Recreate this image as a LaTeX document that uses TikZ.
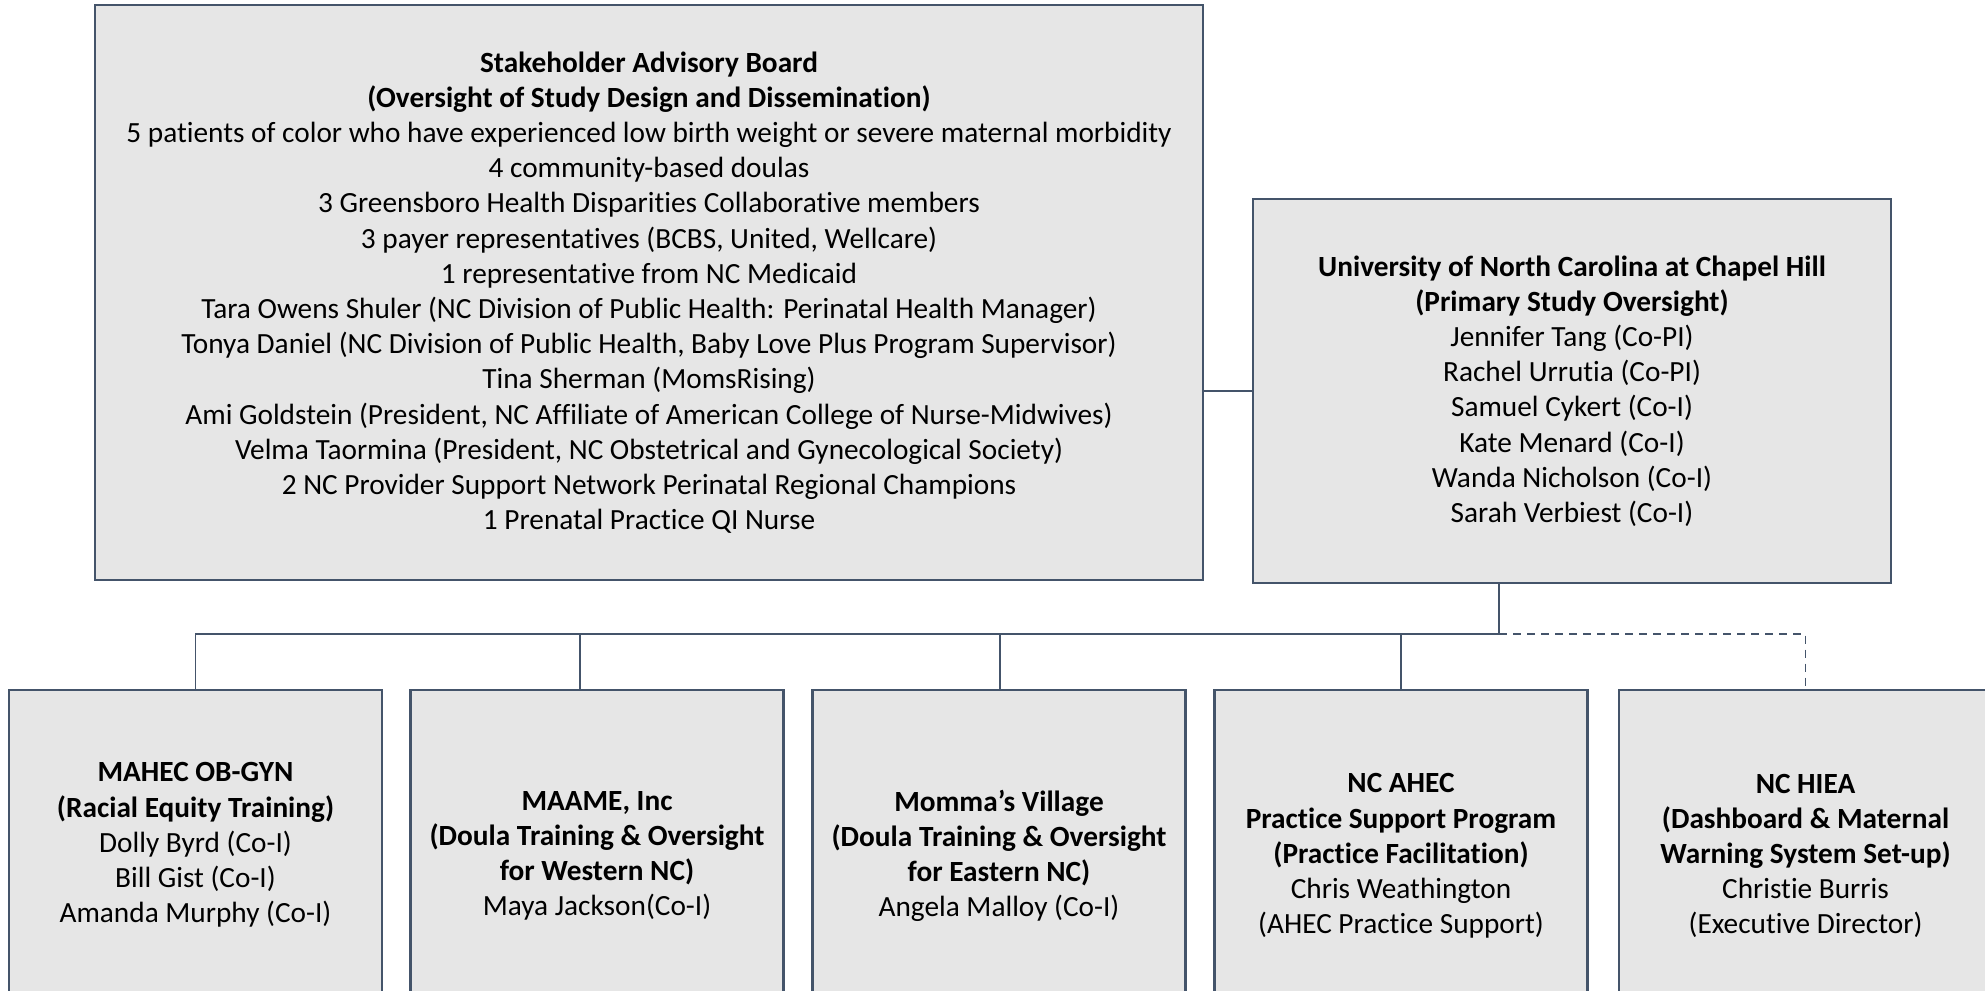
\documentclass[tikz,border=0pt]{standalone}
\usepackage{fontspec}
\setmainfont{Carlito}[Ligatures=NoCommon]
\definecolor{slate}{HTML}{44546A}
\definecolor{boxgray}{HTML}{E6E6E6}
\begin{document}
\begin{tikzpicture}[x=1pt,y=-1pt,
    orgbox/.style ={rectangle, draw=slate, fill=boxgray, line width=2.6pt, inner sep=0pt, align=center,
                    font=\fontsize{29.3}{35.2}\selectfont},
    unitbox/.style ={orgbox, minimum width=373pt, minimum height=332pt},
    link/.style ={draw=slate, line width=1.8pt}]
   \useasboundingbox (0,0) rectangle (1985,990);
   \clip (0,0) rectangle (1985,990);
   \node[orgbox, minimum width=1108pt, minimum height=575pt] (sab) at (649,292.5)
     {\textbf{Stakeholder Advisory Board}\\
      \textbf{(Oversight of Study Design and Dissemination)}\\
      5 patients of color who have experienced low birth weight or severe maternal morbidity\\
      4 community-based doulas\\
      3 Greensboro Health Disparities Collaborative members\\
      3 payer representatives (BCBS, United, Wellcare)\\
      1 representative from NC Medicaid\\
      Tara Owens Shuler (NC Division of Public Health: Perinatal Health Manager)\\
      Tonya Daniel (NC Division of Public Health, Baby Love Plus Program Supervisor)\\
      Tina Sherman (MomsRising)\\
      Ami Goldstein (President, NC Affiliate of American College of Nurse-Midwives)\\
      Velma Taormina (President, NC Obstetrical and Gynecological Society)\\
      2 NC Provider Support Network Perinatal Regional Champions\\
      1 Prenatal Practice QI Nurse};
   \node[orgbox, minimum width=638pt, minimum height=384pt] (unc) at (1572,391)
     {\textbf{University of North Carolina at Chapel Hill}\\
      \textbf{(Primary Study Oversight)}\\
      Jennifer Tang (Co-PI)\\
      Rachel Urrutia (Co-PI)\\
      Samuel Cykert (Co-I)\\
      Kate Menard (Co-I)\\
      Wanda Nicholson (Co-I)\\
      Sarah Verbiest (Co-I)};
   \node[unitbox, minimum height=310pt] (mahec) at (195.5,845)
     {\textbf{MAHEC OB-GYN}\\
      \textbf{(Racial Equity Training)}\\
      Dolly Byrd (Co-I)\\
      Bill Gist (Co-I)\\
      Amanda Murphy (Co-I)};
   \node[unitbox] (maame) at (597,856)
     {\textbf{MAAME, Inc}\\
      \textbf{(Doula Training \& Oversight}\\
      \textbf{for Western NC)}\\
      Maya Jackson(Co-I)};
   \node[unitbox] (momma) at (999,856)
     {\textbf{Momma’s Village}\\
      \textbf{(Doula Training \& Oversight}\\
      \textbf{for Eastern NC)}\\
      Angela Malloy (Co-I)};
   \node[unitbox] (ncahec) at (1401,856)
     {\textbf{NC AHEC}\\
      \textbf{Practice Support Program}\\
      \textbf{(Practice Facilitation)}\\
      Chris Weathington\\
      (AHEC Practice Support)};
   \node[unitbox] (nchiea) at (1805.5,856)
     {\textbf{NC HIEA}\\
      \textbf{(Dashboard \& Maternal}\\
      \textbf{Warning System Set-up)}\\
      Christie Burris\\
      (Executive Director)};
   \coordinate (hub) at (1499,634);
   \draw[link] (unc.west) -- (unc.west -| sab.east);
   \draw[link] (unc.south -| hub) -- (hub);
   \draw[link] (hub) -| (mahec.north);
   \foreach \unit/\dx in {maame/-17, momma/1, ncahec/0}
     \draw[link] ([xshift=\dx]\unit.north) -- ([xshift=\dx]\unit.north |- hub);
   \draw[link, dash pattern=on 8pt off 6pt] (hub) -| (nchiea.north);
 \end{tikzpicture}
\end{document}
